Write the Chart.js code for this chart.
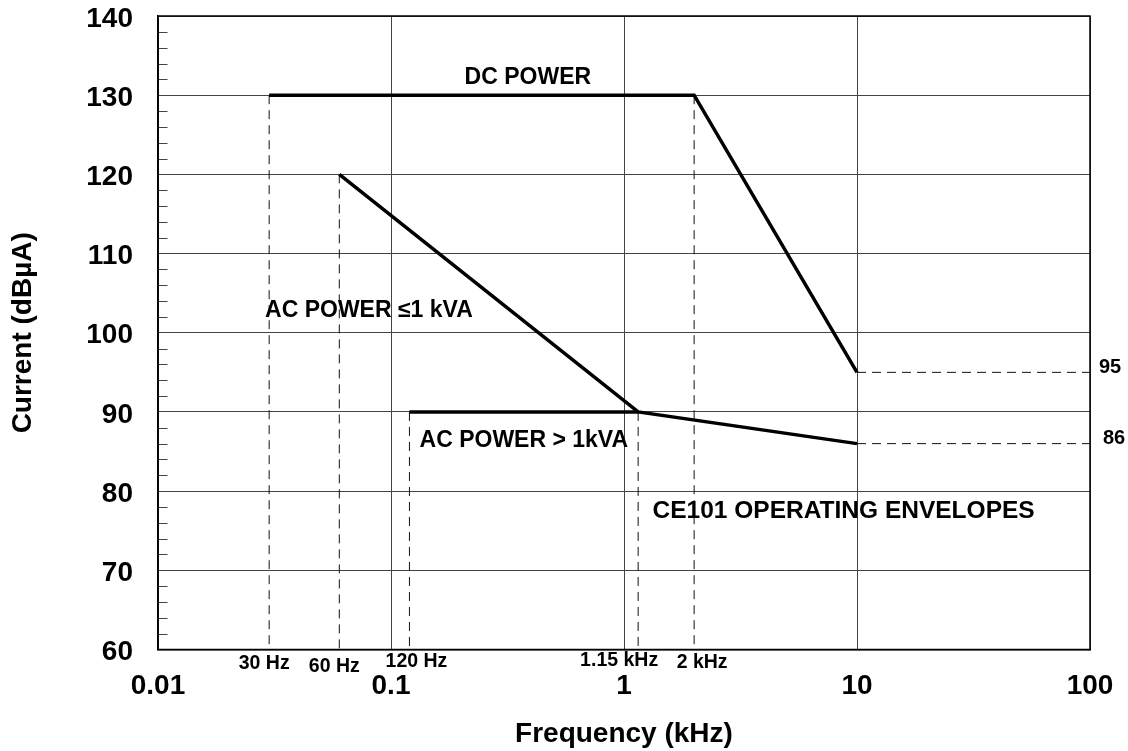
<!DOCTYPE html>
<html>
<head>
<meta charset="utf-8">
<script src="https://cdn.jsdelivr.net/npm/chart.js"></script>
<style>
  html, body { margin: 0; padding: 0; background: #fff; }
  .wrap { width: 1128px; height: 751px; }
</style>
</head>
<body>
<div class="wrap"><canvas id="ce101"></canvas></div>
<script>
// CE101 envelopes, frequency in kHz, level in dBuA
const dcFreq = [0.03, 2, 10];
const dcLevel = [130, 130, 95];
const acLowFreq = [0.06, 1.15, 10];
const acLowLevel = [120, 90, 86];
const acHighFreq = [0.12, 1.15];
const acHighLevel = [90, 90];

// break points marked with dashed drop lines
const breakFreq = [0.03, 0.06, 0.12, 1.15, 2];
const breakLevel = [130, 120, 90, 90, 130];
const breakLabels = ['30 Hz', '60 Hz', '120 Hz', '1.15 kHz', '2 kHz'];
const endLevels = [95, 86];

const xTicks = [0.01, 0.1, 1, 10, 100];
const yMin = 60, yMax = 140, yStep = 10, yMinor = 2;

const FONT = "'Liberation Sans', Arial, Helvetica, sans-serif";

function pts(xs, ys) {
    return xs.map((x, i) => ({ x: x, y: ys[i] }));
}

const lineStyle = { borderColor: '#000', borderWidth: 3.5, pointRadius: 0, showLine: true, fill: false };
const dashStyle = { borderColor: '#111', borderWidth: 1, borderDash: [9, 6], pointRadius: 0, showLine: true, fill: false };

const datasets = [
    Object.assign({ label: 'DC POWER', data: pts(dcFreq, dcLevel) }, lineStyle),
    Object.assign({ label: 'AC POWER <=1 kVA', data: pts(acLowFreq, acLowLevel) }, lineStyle),
    Object.assign({ label: 'AC POWER > 1kVA', data: pts(acHighFreq, acHighLevel) }, lineStyle)
];
breakFreq.forEach((f, i) => {
    datasets.push(Object.assign({ label: breakLabels[i], data: [{ x: f, y: breakLevel[i] }, { x: f, y: yMin }] }, dashStyle));
});
endLevels.forEach(v => {
    datasets.push(Object.assign({ label: String(v), data: [{ x: 10, y: v }, { x: 100, y: v }] }, dashStyle));
});

// text placed in data units (left edge / vertical middle)
const notes = [
    { text: 'DC POWER', x: 0.207, y: 132.2, size: 23 },
    { text: 'AC POWER \u22641 kVA', x: 0.0288, y: 102.8, size: 23 },
    { text: 'AC POWER > 1kVA', x: 0.1326, y: 86.4, size: 23 },
    { text: 'CE101 OPERATING ENVELOPES', x: 1.326, y: 77.5, size: 24.5 }
];
// small nudges of the break labels under the axis
const breakNudge = [[-5, 14], [-5, 17], [7, 12], [-19, 11], [8, 13]];

// keep the plot box where it is, whatever the tick labels want
function noPad(scale) {
    scale.paddingTop = 0;
    scale.paddingBottom = 0;
    scale.paddingLeft = 0;
    scale.paddingRight = 0;
}

const extras = {
    id: 'extras',
    afterDraw(chart) {
        const ctx = chart.ctx;
        const a = chart.chartArea;
        const xs = chart.scales.x, ys = chart.scales.y;
        ctx.save();
        // minor ticks on the left side, inside
        ctx.strokeStyle = '#444';
        ctx.lineWidth = 1;
        ctx.beginPath();
        for (let v = yMin; v <= yMax; v += yMinor) {
            if (v % yStep === 0) continue;
            const y = Math.round(ys.getPixelForValue(v)) + 0.5;
            ctx.moveTo(a.left, y);
            ctx.lineTo(a.left + 9.5, y);
        }
        ctx.stroke();
        // frame
        ctx.strokeStyle = '#000';
        ctx.lineWidth = 1.5;
        ctx.strokeRect(a.left, a.top, a.right - a.left, a.bottom - a.top);

        ctx.fillStyle = '#000';
        ctx.textBaseline = 'middle';
        ctx.textAlign = 'left';
        notes.forEach(n => {
            ctx.font = 'bold ' + n.size + 'px ' + FONT;
            ctx.fillText(n.text, xs.getPixelForValue(n.x), ys.getPixelForValue(n.y));
        });
        ctx.textAlign = 'center';
        ctx.font = 'bold 19.5px ' + FONT;
        breakFreq.forEach((f, i) => {
            ctx.fillText(breakLabels[i], xs.getPixelForValue(f) + breakNudge[i][0], a.bottom + breakNudge[i][1]);
        });
        ctx.textAlign = 'left';
        ctx.font = 'bold 20px ' + FONT;
        endLevels.forEach((v, i) => {
            ctx.fillText(String(v), a.right + 9 + i * 4, ys.getPixelForValue(v) - 5);
        });
        ctx.restore();
    }
};

new Chart(document.getElementById('ce101'), {
    type: 'scatter',
    data: { datasets: datasets },
    options: {
        responsive: true,
        maintainAspectRatio: false,
        animation: false,
        layout: { padding: { left: 0, right: 38, top: 16, bottom: 0 } },
        plugins: { legend: { display: false }, tooltip: { enabled: false } },
        scales: {
            x: {
                type: 'logarithmic',
                min: 0.01,
                max: 100,
                afterBuildTicks: (scale) => { scale.ticks = xTicks.map(v => ({ value: v })); },
                afterFit: (scale) => { scale.height = 101.5; noPad(scale); },
                grid: { color: '#444', lineWidth: 1, drawTicks: false },
                border: { display: true, color: '#000', width: 1.5 },
                ticks: {
                    autoSkip: false,
                    maxRotation: 0,
                    padding: 20,
                    color: '#000',
                    font: { family: FONT, size: 28, weight: 'bold' },
                    callback: (v) => String(v)
                },
                title: {
                    display: true,
                    text: 'Frequency (kHz)',
                    color: '#000',
                    font: { family: FONT, size: 28, weight: 'bold' },
                    padding: { top: 0, bottom: 0 }
                }
            },
            y: {
                min: yMin,
                max: yMax,
                afterFit: (scale) => { scale.width = 158; noPad(scale); },
                grid: { color: '#444', lineWidth: 1, drawTicks: false },
                border: { display: true, color: '#000', width: 1.5 },
                ticks: {
                    stepSize: yStep,
                    padding: 25,
                    labelOffset: 3,
                    color: '#000',
                    font: { family: FONT, size: 28, weight: 'bold', lineHeight: 1 }
                },
                title: {
                    display: true,
                    text: 'Current (dB\u00b5A)',
                    color: '#000',
                    font: { family: FONT, size: 28, weight: 'bold' },
                    padding: { top: 6, bottom: 0 }
                }
            }
        }
    },
    plugins: [extras]
});
</script>
</body>
</html>
